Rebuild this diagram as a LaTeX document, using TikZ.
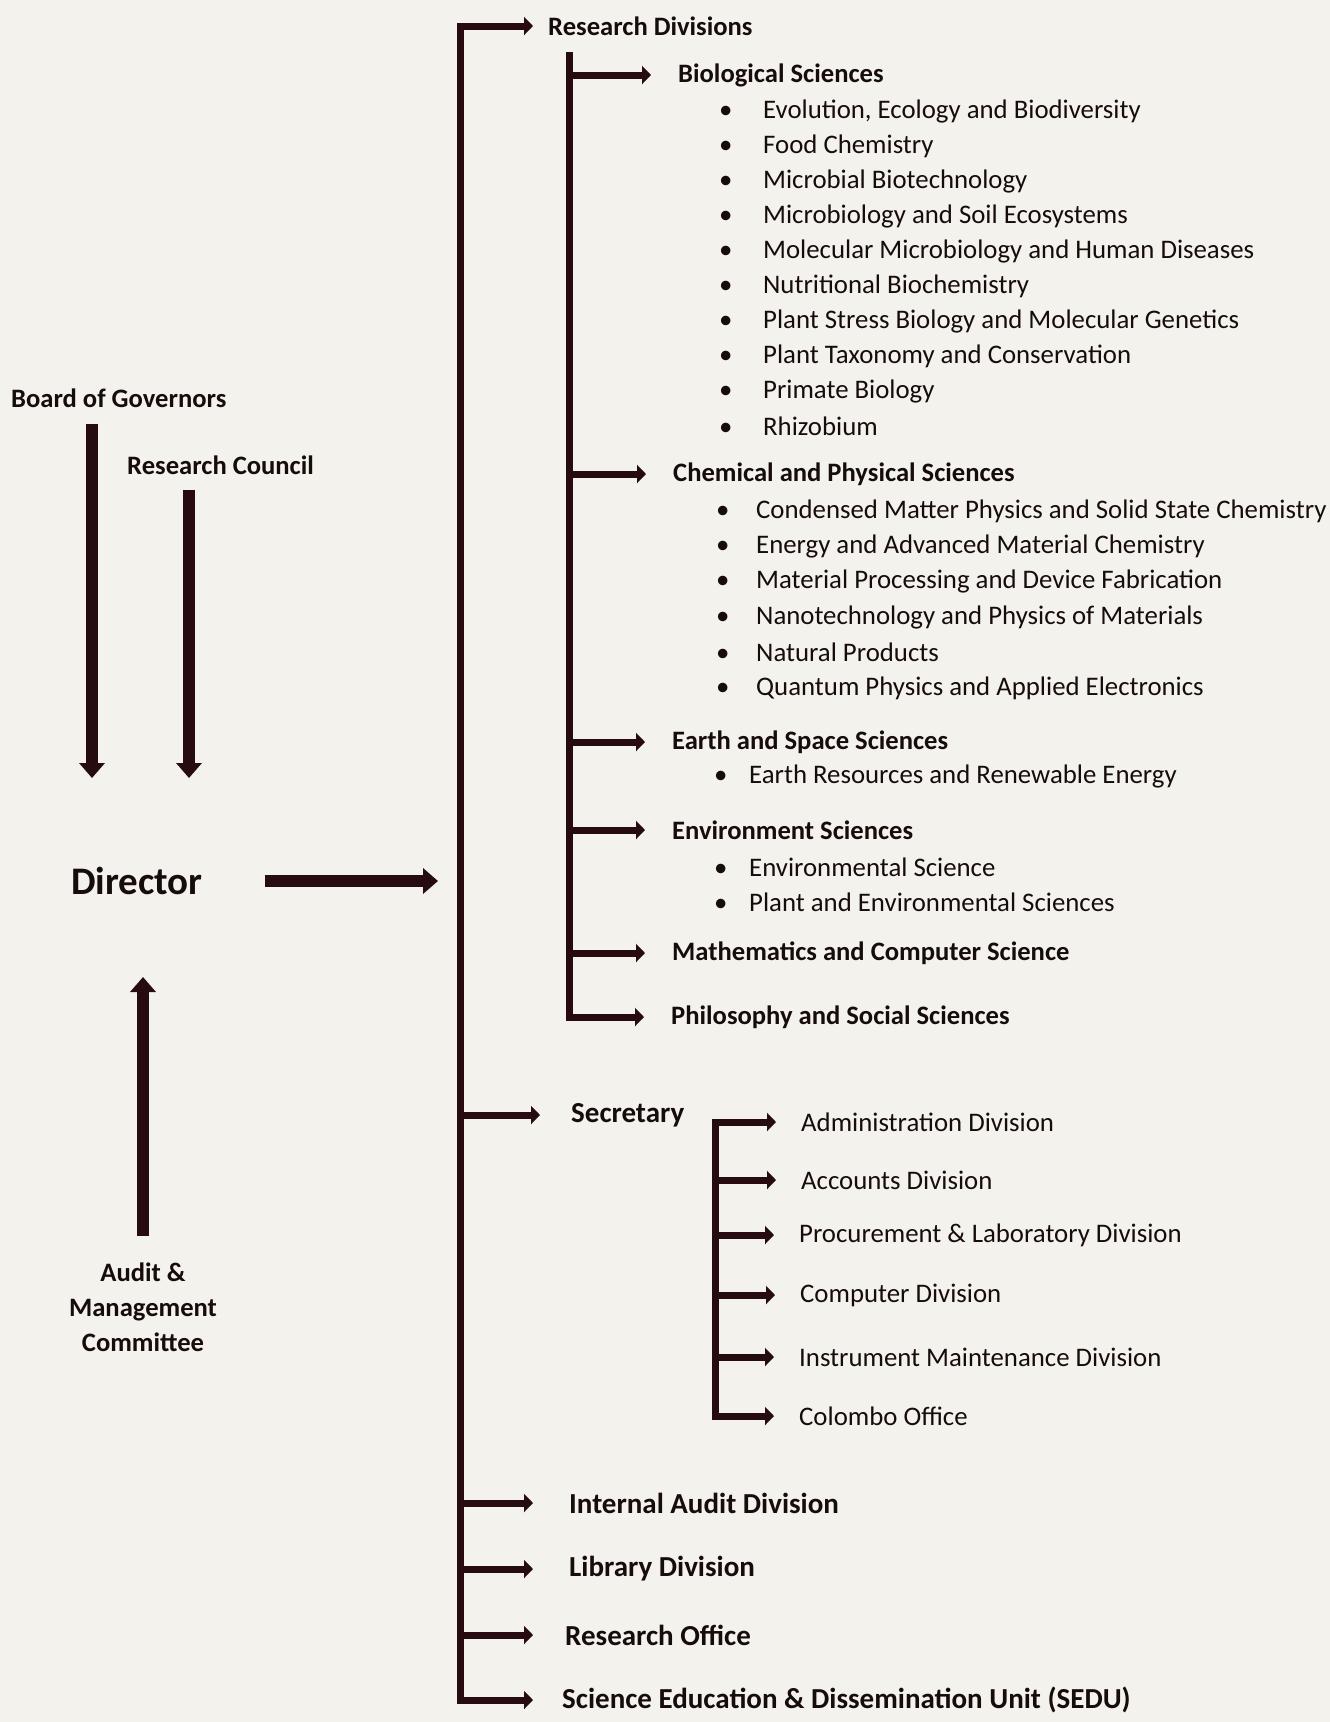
\documentclass[tikz,border=0pt]{standalone}
\usepackage{fontspec}
\setmainfont{Carlito}
\usepackage{xcolor}
\usepackage{tikz}
\usetikzlibrary{arrows.meta,positioning}
\definecolor{ink}{RGB}{38,12,16}
\definecolor{paper}{RGB}{244,242,237}
\tikzstyle{stem} = [line width=7pt,ink,line cap=rect]
\tikzstyle{branch} = [line width=7pt,ink,-{Triangle[length=9pt,width=18pt]}]
\tikzstyle{big} = [line width=11.5pt,ink,-{Triangle[length=15pt,width=25pt]}]
\tikzstyle{head} = [font=\fontsize{26.6}{35}\selectfont\bfseries]
\tikzstyle{unit} = [font=\fontsize{29}{34}\selectfont\bfseries]
\tikzstyle{item} = [font=\fontsize{26.8}{31}\selectfont]

\begin{document}
\begin{tikzpicture}
    [x=1pt,y=-1pt,every node/.style={anchor=west,inner sep=0pt,text={rgb,255:red,22;green,12;blue,12}}]
    \fill[paper] (0,0) rectangle (1330,1722);
    \useasboundingbox (0,0) rectangle (1330,1722);
    % left column
    \node[head] (bog) at (11,398) {Board of Governors};
    \node[head] (rc) at (127,465) {Research Council};
    \node[font=\fontsize{39}{44}\selectfont\bfseries] (dir) at (71,881) {Director};
    \node[head,align=center,anchor=center] (amc) at (143,1307) {Audit \&\\Management\\Committee};
    \coordinate (bogtip) at (92,778);
    \coordinate (rctip) at (189,778);
    \coordinate (amctip) at (143,977);
    % trunks
    \coordinate (tk) at (460,0);
    \coordinate (rtk) at (569,0);
    \coordinate (rtop) at (569,55);
    \coordinate (stk) at (715,0);
    % research divisions
    \node[head] (rd) at (548,26) {Research Divisions};
    \node[head] (bio) at (678,75) {Biological Sciences};
    \node[head] (chem) at (673,474) {Chemical and Physical Sciences};
    \node[head] (earth) at (672,742) {Earth and Space Sciences};
    \node[head] (env) at (672,830) {Environment Sciences};
    \node[head] (math) at (672,953) {Mathematics and Computer Science};
    \node[head] (phil) at (671,1017) {Philosophy and Social Sciences};
    \foreach \t [count=\i from 0] in {{Evolution, Ecology and Biodiversity},Food Chemistry,
    Microbial Biotechnology,Microbiology and Soil Ecosystems,
    Molecular Microbiology and Human Diseases,Nutritional Biochemistry,
    Plant Stress Biology and Molecular Genetics,Plant Taxonomy and Conservation,
    Primate Biology,Rhizobium}
    \node[item] (bio\i) at (719,111+35*\i) {\makebox[44pt][l]{\textbullet}\t};
    \foreach \t [count=\i from 0] in {Condensed Matter Physics and Solid State Chemistry,
    Energy and Advanced Material Chemistry,Material Processing and Device Fabrication,
    Nanotechnology and Physics of Materials,Natural Products,
    Quantum Physics and Applied Electronics}
    \node[item] (chem\i) at (716,511+35.4*\i) {\makebox[40pt][l]{\textbullet}\t};
    \node[item] (earth0) at (714,776) {\makebox[35pt][l]{\textbullet}Earth Resources and Renewable Energy};
    \node[item] (env0) at (714,867) {\makebox[35pt][l]{\textbullet}Environmental Science};
    \node[item] (env1) at (714,902) {\makebox[35pt][l]{\textbullet}Plant and Environmental Sciences};
    % secretary and other units
    \node[unit] (sec) at (571,1115) {Secretary};
    \node[item] (adm) at (801,1122) {Administration Division};
    \node[item] (acc) at (801,1180) {Accounts Division};
    \node[item] (proc) at (799,1235) {Procurement \& Laboratory Division};
    \node[item] (comp) at (800,1295) {Computer Division};
    \node[item] (inst) at (799,1357) {Instrument Maintenance Division};
    \node[item] (col) at (799,1416) {Colombo Office};
    \node[unit] (iad) at (569,1503) {Internal Audit Division};
    \node[unit] (lib) at (569,1569) {Library Division};
    \node[unit] (ro) at (565,1635) {Research Office};
    \node[unit] (sedu) at (562,1700) {Science Education \& Dissemination Unit (SEDU)};
    % connectors
    \draw[big,shorten <=16pt] (bogtip |- bog.south) -- (bogtip);
    \draw[big,shorten <=15pt] (rctip |- rc.south) -- (rctip);
    \draw[big,shorten <=26pt] (amc.north) -- (amctip);
    \draw[big,shorten <=62pt,shorten >=22pt] (dir.east) -- (dir.east -| tk);
    \draw[stem] (rd.west -| tk) -- (sedu.west -| tk);
    \draw[stem] (rtop) -- (phil.west -| rtk);
    \draw[stem] (adm.west -| stk) -- (col.west -| stk);
    \foreach \n/\g in {rd/15,sec/31,iad/36,lib/36,ro/32,sedu/29}
    \draw[branch] (\n.west -| tk) -- ([xshift=-\g pt]\n.west);
    \foreach \n in {bio,chem,earth,env,math,phil}
    \draw[branch] (\n.west -| rtk) -- ([xshift=-27pt]\n.west);
    \foreach \n in {adm,acc,proc,comp,inst,col}
    \draw[branch] (\n.west -| stk) -- ([xshift=-25pt]\n.west);
\end{tikzpicture}
\end{document}
